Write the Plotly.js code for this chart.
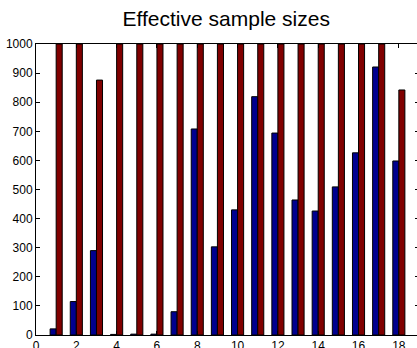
<!DOCTYPE html>
<html><head><meta charset="utf-8">
<script src="https://cdn.plot.ly/plotly-3.0.1.min.js"></script>
<style>html,body{margin:0;padding:0;overflow:hidden;background:#fff}#chart{width:419px;height:348px}</style>
</head><body><div id="chart"></div>
<script>
const indices = [1,2,3,4,5,6,7,8,9,10,11,12,13,14,15,16,17,18];
const essBlue = [21,115,290,2,3,3,80,708,303,430,819,694,464,426,509,626,921,598];
const essRed  = [1000,1000,876,1000,1000,1000,1000,1000,1000,1000,1000,1000,1000,1000,1000,1000,1000,842];
const xTicks = [0,2,4,6,8,10,12,14,16,18];
const yTicks = [0,100,200,300,400,500,600,700,800,900,1000];

const traces = [
  {type:'bar', x:indices, y:essBlue, marker:{color:'#00008F', line:{color:'#000', width:1}}, showlegend:false},
  {type:'bar', x:indices, y:essRed, marker:{color:'#800000', line:{color:'#000', width:1}}, showlegend:false}
];
const layout = {
  width:419, height:348,
  margin:{l:36, r:0, t:44, b:13},
  paper_bgcolor:'#fff', plot_bgcolor:'#fff',
  font:{family:'Liberation Sans, Arial, sans-serif', size:12, color:'#000'},
  title:{text:'Effective sample sizes', font:{size:21, color:'#000'}, x:0.54, xanchor:'center', y:0.945, yanchor:'middle'},
  barmode:'group', bargap:0.4, bargroupgap:0,
  xaxis:{range:[0,19], tickvals:xTicks, ticktext:xTicks.map(String), ticks:'inside', ticklen:4, tickcolor:'#000',
         showline:true, linecolor:'#000', linewidth:1, mirror:'ticks', showgrid:false, zeroline:false, fixedrange:true},
  yaxis:{range:[0,1000], tickvals:yTicks, ticktext:yTicks.map(String), ticks:'inside', ticklen:4, tickcolor:'#000',
         showline:true, linecolor:'#000', linewidth:1, mirror:'ticks', showgrid:false, zeroline:false, fixedrange:true}
};
Plotly.newPlot('chart', traces, layout, {displayModeBar:false, staticPlot:true});
</script></body></html>
